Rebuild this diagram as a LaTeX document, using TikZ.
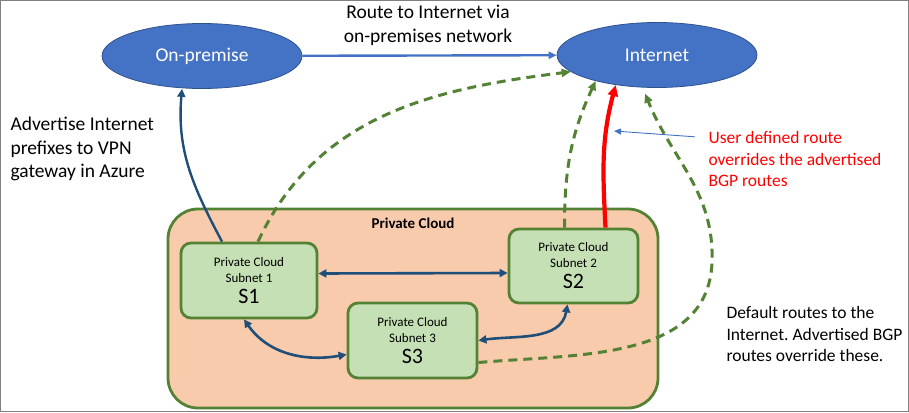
\documentclass[tikz,border=0pt]{standalone}
\usepackage{fontspec}
\setmainfont{Carlito}
\usetikzlibrary{shapes.geometric,arrows.meta}
\definecolor{ellblue}{HTML}{4472C4}
\definecolor{ellline}{HTML}{2F528F}
\definecolor{navy}{HTML}{1F4E79}
\definecolor{leaf}{HTML}{548235}
\definecolor{peach}{HTML}{F8CBAD}
\definecolor{mint}{HTML}{C5E0B4}
\frenchspacing
\begin{document}
\begin{tikzpicture}[x=1pt,y=-1pt,
		cloudnet/.style={ellipse,fill=ellblue,draw=ellline,line width=.8pt,minimum width=200pt,minimum height=65pt,text=white,font=\fontsize{19.5}{23}\selectfont},
		subnet/.style={draw=leaf,fill=mint,line width=2.8pt,rounded corners=10pt,minimum width=129pt,minimum height=74pt,align=center,font=\fontsize{13}{16}\selectfont},
		link/.style={navy,line width=2.6pt,{Triangle[length=8pt,width=8pt]}-{Triangle[length=8pt,width=8pt]}},
		uplink/.style={navy,line width=2.4pt,-{Triangle[length=8pt,width=8pt]}},
		route/.style={leaf,line width=3pt,dash pattern=on 9pt off 6pt,-{Triangle[length=9pt,width=8pt]}},
		bigtext/.style={font=\fontsize{19.5}{23.5}\selectfont,align=left}]
				\useasboundingbox (0,0) rectangle (909,412);
				\draw [gray,line width=1pt] (0.5,0.5) rectangle (908.5,411.5);
				% the two clouds at the top
				\node [cloudnet] (onprem) at (202,56) {On-premise};
				\node [cloudnet] (inet) at (657,55) {Internet};
				% private cloud and its subnets
				\node [draw=leaf,fill=peach,line width=2.8pt,rounded corners=30pt,minimum width=490pt,minimum height=199pt] (cloud) at (413,308.5) {};
				\node [font=\bfseries\fontsize{15}{18}\selectfont] (cloudtitle) at (413,223) {Private Cloud};
				\node [subnet,minimum width=136pt,minimum height=75pt] (s1) at (249,280.5) {Private Cloud\\Subnet 1\\[5pt]{\fontsize{22}{24}\selectfont S1}};
				\node [subnet] (s2) at (573.5,266) {Private Cloud\\Subnet 2\\[5pt]{\fontsize{22}{24}\selectfont S2}};
				\node [subnet,minimum height=75pt] (s3) at (412.5,340.5) {Private Cloud\\Subnet 3\\[5pt]{\fontsize{22}{24}\selectfont S3}};
				% labels
				\node [bigtext,align=center] (viatext) at (428,25.5) {Route to Internet via\\on-premises network};
				\node [bigtext,anchor=west] (advtext) at (7,149) {Advertise Internet\\prefixes to VPN\\gateway in Azure};
				\node [anchor=west,align=left,text=red,font=\fontsize{17.5}{21.5}\selectfont] (udrtext) at (705,159) {User defined route\\overrides the advertised\\BGP routes};
				\node [anchor=west,align=left,font=\fontsize{17.5}{21.5}\selectfont] (deftext) at (723,334) {Default routes to the\\Internet. Advertised BGP\\routes override these.};
				% connectors
				\draw [ellblue,line width=2.4pt,-{Triangle[length=8pt,width=7pt]}] (onprem) -- (inet);
				\draw [link] ([yshift=7pt]s1.east) -- ([yshift=-7pt]s2.west);
				\draw [link] ([xshift=-5pt]s1.south) to [out=-55,in=190] ([yshift=-14pt]s3.west);
				\draw [link] (s3.east) to [out=8,in=-100] ([xshift=-6pt]s2.south);
				\draw [uplink] ([xshift=-27pt]s1.north) to [out=118,in=-95] ([xshift=-20pt]onprem.south);
				\draw [route] ([xshift=9pt]s1.north) to [out=65,in=187] (inet.191);
				\draw [route] ([xshift=-9pt]s2.north) to [out=90,in=-115] (inet.203);
				\draw [red,line width=4.2pt,-{Triangle[length=11pt,width=10pt]}] ([xshift=32pt]s2.north) to [out=93,in=-105] (inet.216);
				\coordinate (bend) at (712,262);
				\draw [route] ([yshift=-22pt]s3.east) to [out=5,in=-92] (bend) to [out=88,in=-68] ([yshift=-6pt]inet.250);
				\coordinate (udrtip) at (614,131);
				\draw [ellblue,line width=.9pt,-{Triangle[length=7pt,width=6pt]}] ([shift={(-10pt,-9pt)}]udrtext.north west) -- (udrtip);
			\end{tikzpicture}
\end{document}
